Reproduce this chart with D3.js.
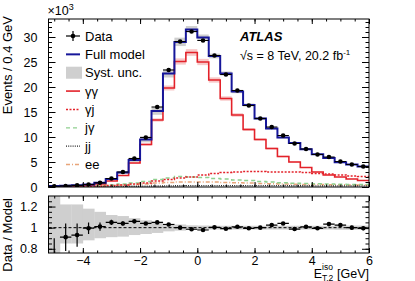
<!DOCTYPE html>
<html>
<head>
<meta charset="utf-8">
<script src="https://cdn.jsdelivr.net/npm/d3@7"></script>
<style>
  body { margin: 0; background: #fff; }
  svg { display: block; font-family: "Liberation Sans", Arial, sans-serif; }
</style>
</head>
<body>
<div id="chart"></div>
<script>
// bins of 0.4 GeV (low edges)
const binLow = [-5.2, -4.8, -4.4, -4.0, -3.6, -3.2, -2.8, -2.4, -2.0, -1.6, -1.2, -0.8, -0.4, 0.0,
  0.4, 0.8, 1.2, 1.6, 2.0, 2.4, 2.8, 3.2, 3.6, 4.0, 4.4, 4.8, 5.2, 5.6];
const binWidth = 0.4;

// values in units of 10^3 events
const dataVals = [0.15, 0.21, 0.32, 0.5, 0.84, 1.7, 3.0, 5.7, 9.9, 16.0, 23.4, 29.1, 31.1, 29.3,
  26.3, 22.5, 19.3, 16.3, 13.7, 12.0, 10.3, 8.7, 7.6, 6.5, 6.0, 5.1, 4.5, 4.1];
const dataRelErr = [0.2, 0.13, 0.11, 0.055, 0.04, 0.025, 0.02, 0.015, 0.012, 0.01, 0.01, 0.01, 0.01, 0.01,
  0.01, 0.01, 0.01, 0.01, 0.012, 0.012, 0.013, 0.014, 0.015, 0.016, 0.016, 0.017, 0.018, 0.019];
const modelVals = [0.22, 0.23, 0.34, 0.5, 0.83, 1.62, 2.88, 5.38, 9.5, 15.2, 22.7, 29.0, 31.5, 29.9,
  26.2, 22.7, 19.1, 16.4, 13.7, 11.7, 9.9, 8.8, 7.55, 6.55, 5.8, 4.97, 4.5, 4.12];
const ggVals = [0.1, 0.15, 0.25, 0.35, 0.6, 1.2, 2.3, 4.8, 8.5, 13.4, 19.8, 25.1, 26.9, 25.0,
  21.4, 17.7, 14.4, 11.5, 9.5, 7.7, 6.1, 5.0, 3.9, 3.0, 2.4, 2.0, 1.6, 1.3];
const gjVals = [0.03, 0.05, 0.08, 0.12, 0.2, 0.3, 0.4, 0.6, 0.8, 1.2, 1.5, 1.8, 2.0, 2.4,
  2.7, 2.9, 3.0, 3.1, 3.1, 3.0, 3.0, 3.0, 2.9, 2.7, 2.6, 2.4, 2.2, 2.1];
const jgVals = [0.03, 0.05, 0.1, 0.15, 0.3, 0.4, 0.6, 0.8, 1.1, 1.5, 1.8, 2.1, 2.0, 1.9,
  1.7, 1.6, 1.4, 1.3, 1.1, 1.0, 0.85, 0.75, 0.7, 0.65, 0.6, 0.55, 0.5, 0.5];
const jjVals = [0.02, 0.03, 0.04, 0.05, 0.07, 0.1, 0.12, 0.15, 0.18, 0.2, 0.22, 0.25, 0.27, 0.28,
  0.28, 0.28, 0.28, 0.27, 0.27, 0.26, 0.26, 0.25, 0.25, 0.24, 0.24, 0.23, 0.23, 0.22];
const eeVals = [0.05, 0.07, 0.1, 0.15, 0.2, 0.3, 0.4, 0.5, 0.6, 0.8, 0.9, 1.0, 1.0, 1.0,
  1.0, 0.9, 0.85, 0.8, 0.7, 0.65, 0.6, 0.55, 0.5, 0.5, 0.45, 0.45, 0.4, 0.4];

// data / model and relative syst. uncertainty
const ratioVals = [0.70, 0.91, 0.93, 0.995, 1.01, 1.05, 1.04, 1.06, 1.04, 1.05, 1.03, 1.0, 0.985, 0.978,
  1.003, 0.99, 1.008, 0.994, 1.0, 1.025, 1.04, 0.987, 1.008, 0.994, 1.034, 1.025, 1.0, 0.994];
const systUp = [0.30, 0.22, 0.22, 0.18, 0.15, 0.12, 0.11, 0.09, 0.07, 0.055, 0.04, 0.03, 0.022, 0.02,
  0.018, 0.018, 0.018, 0.018, 0.018, 0.018, 0.018, 0.018, 0.018, 0.018, 0.018, 0.02, 0.02, 0.02];
const systDown = [0.25, 0.15, 0.15, 0.12, 0.10, 0.09, 0.085, 0.07, 0.06, 0.05, 0.035, 0.028, 0.02, 0.02,
  0.018, 0.018, 0.018, 0.018, 0.018, 0.018, 0.018, 0.018, 0.018, 0.018, 0.018, 0.02, 0.02, 0.02];

const xTicks = [-4, -2, 0, 2, 4, 6];
const yTicks = [0, 5, 10, 15, 20, 25, 30];
const rTicks = [0.8, 1, 1.2];

// layout
const W = 415, H = 281;
const left = 48.5, right = 369;
const top1 = 19, bot1 = 187;
const top2 = 196, bot2 = 253;

const svg = d3.select("#chart").append("svg")
  .attr("width", W).attr("height", H);

const x = d3.scaleLinear().domain([-5.2, 6]).range([left, right]);
const y = d3.scaleLinear().domain([0, 33.6]).range([bot1, top1]);
const yr = d3.scaleLinear().domain([0.76, 1.3]).range([bot2, top2]);

const defs = svg.append("defs");
defs.append("clipPath").attr("id", "clipTop").append("rect")
  .attr("x", left).attr("y", top1).attr("width", right - left).attr("height", bot1 - top1);
defs.append("clipPath").attr("id", "clipBot").append("rect")
  .attr("x", left).attr("y", top2).attr("width", right - left).attr("height", bot2 - top2);

const blue = "#16169a";
const red = "#e3222a";

// step path helper
const stepLine = (vals, ys) => {
  const pts = vals.map((v, i) => [x(binLow[i]), ys(v)]);
  pts.push([x(binLow[vals.length - 1] + binWidth), ys(vals[vals.length - 1])]);
  return d3.line().curve(d3.curveStepAfter)(pts);
};

// ---------- upper pad ----------
const gTop = svg.append("g").attr("clip-path", "url(#clipTop)");

// syst band around full model
gTop.selectAll("rect.syst").data(modelVals).enter().append("rect")
  .attr("x", (d, i) => x(binLow[i]))
  .attr("width", (d, i) => x(binLow[i] + binWidth) - x(binLow[i]))
  .attr("y", (d, i) => y(d * (1 + systUp[i])))
  .attr("height", (d, i) => y(d * (1 - systDown[i])) - y(d * (1 + systUp[i])))
  .attr("fill", "#cfcfcf");

// light band around gamma-gamma
gTop.selectAll("rect.gg").data(ggVals).enter().append("rect")
  .attr("x", (d, i) => x(binLow[i]))
  .attr("width", (d, i) => x(binLow[i] + binWidth) - x(binLow[i]))
  .attr("y", d => y(d * 1.025))
  .attr("height", d => y(d * 0.975) - y(d * 1.025))
  .attr("fill", "#f3b0b0").attr("opacity", 0.7);

const comps = [
  { vals: eeVals, color: "#e8a57a", dash: "4,2,1,2", w: 1.3 },
  { vals: jjVals, color: "#222", dash: "1,1.2", w: 1.3 },
  { vals: jgVals, color: "#8fd08f", dash: "4,3", w: 1.3 },
  { vals: gjVals, color: red, dash: "2,1.5", w: 1.5 },
  { vals: ggVals, color: red, dash: null, w: 1.6 },
  { vals: modelVals, color: blue, dash: null, w: 2 }
];
comps.forEach(c => {
  gTop.append("path")
    .attr("d", stepLine(c.vals, y))
    .attr("fill", "none")
    .attr("stroke", c.color)
    .attr("stroke-width", c.w)
    .attr("stroke-dasharray", c.dash);
});

// data points
const pts = gTop.selectAll("g.pt").data(dataVals).enter().append("g");
pts.append("line")
  .attr("x1", (d, i) => x(binLow[i])).attr("x2", (d, i) => x(binLow[i] + binWidth))
  .attr("y1", d => y(d)).attr("y2", d => y(d))
  .attr("stroke", "#000").attr("stroke-width", 1.2);
pts.append("line")
  .attr("x1", (d, i) => x(binLow[i] + binWidth / 2)).attr("x2", (d, i) => x(binLow[i] + binWidth / 2))
  .attr("y1", (d, i) => y(d * (1 + dataRelErr[i]))).attr("y2", (d, i) => y(d * (1 - dataRelErr[i])))
  .attr("stroke", "#000").attr("stroke-width", 1.2);
pts.append("circle")
  .attr("cx", (d, i) => x(binLow[i] + binWidth / 2)).attr("cy", d => y(d))
  .attr("r", 2.3).attr("fill", "#000");

// ---------- lower pad ----------
const gBot = svg.append("g").attr("clip-path", "url(#clipBot)");
gBot.selectAll("rect.rs").data(systUp).enter().append("rect")
  .attr("x", (d, i) => x(binLow[i]))
  .attr("width", (d, i) => x(binLow[i] + binWidth) - x(binLow[i]) + 0.3)
  .attr("y", d => yr(1 + d))
  .attr("height", (d, i) => yr(1 - systDown[i]) - yr(1 + d))
  .attr("fill", "#cfcfcf");
gBot.append("line")
  .attr("x1", left).attr("x2", right).attr("y1", yr(1)).attr("y2", yr(1))
  .attr("stroke", "#000").attr("stroke-width", 1).attr("stroke-dasharray", "3,2");
const rp = gBot.selectAll("g.rp").data(ratioVals).enter().append("g");
rp.append("line")
  .attr("x1", (d, i) => x(binLow[i])).attr("x2", (d, i) => x(binLow[i] + binWidth))
  .attr("y1", d => yr(d)).attr("y2", d => yr(d))
  .attr("stroke", "#000").attr("stroke-width", 1.2);
rp.append("line")
  .attr("x1", (d, i) => x(binLow[i] + binWidth / 2)).attr("x2", (d, i) => x(binLow[i] + binWidth / 2))
  .attr("y1", (d, i) => yr(d + dataRelErr[i])).attr("y2", (d, i) => yr(d - dataRelErr[i]))
  .attr("stroke", "#000").attr("stroke-width", 1.2);
rp.append("circle")
  .attr("cx", (d, i) => x(binLow[i] + binWidth / 2)).attr("cy", d => yr(d))
  .attr("r", 2.3).attr("fill", "#000");

// ---------- axes ----------
const styleAxis = g => {
  g.select(".domain").remove();
  g.selectAll("line").attr("stroke", "#000");
  g.selectAll("text").attr("font-size", 12.5).attr("fill", "#000")
    .attr("font-family", "Liberation Sans, Arial, sans-serif");
};
const minorX = d3.range(-5, 6.01, 0.5);

function xAxes(yPos, yOther, labels) {
  svg.append("g").attr("transform", `translate(0,${yPos})`)
    .call(d3.axisBottom(x).tickValues(xTicks).tickSize(-5)
      .tickFormat(labels ? d3.format("") : "").tickPadding(3))
    .call(styleAxis);
  svg.append("g").attr("transform", `translate(0,${yPos})`)
    .call(d3.axisBottom(x).tickValues(minorX).tickSize(-2.5).tickFormat(""))
    .call(styleAxis);
  svg.append("g").attr("transform", `translate(0,${yOther})`)
    .call(d3.axisTop(x).tickValues(xTicks).tickSize(-5).tickFormat(""))
    .call(styleAxis);
  svg.append("g").attr("transform", `translate(0,${yOther})`)
    .call(d3.axisTop(x).tickValues(minorX).tickSize(-2.5).tickFormat(""))
    .call(styleAxis);
}
xAxes(bot1, top1, false);
xAxes(bot2, top2, true);

function yAxes(scale, major, minor, fmt) {
  svg.append("g").attr("transform", `translate(${left},0)`)
    .call(d3.axisLeft(scale).tickValues(major).tickSize(-7).tickPadding(4).tickFormat(fmt))
    .call(styleAxis)
    .selectAll("text").attr("dx", -7);
  svg.append("g").attr("transform", `translate(${left},0)`)
    .call(d3.axisLeft(scale).tickValues(minor).tickSize(-3.5).tickFormat(""))
    .call(styleAxis);
  svg.append("g").attr("transform", `translate(${right},0)`)
    .call(d3.axisRight(scale).tickValues(major).tickSize(-7).tickFormat(""))
    .call(styleAxis);
  svg.append("g").attr("transform", `translate(${right},0)`)
    .call(d3.axisRight(scale).tickValues(minor).tickSize(-3.5).tickFormat(""))
    .call(styleAxis);
}
yAxes(y, yTicks, d3.range(0, 34, 1), d3.format(""));
yAxes(yr, rTicks, d3.range(0.8, 1.3, 0.05), d => d === 1 ? "1" : d3.format(".1f")(d));

// frames
[[top1, bot1], [top2, bot2]].forEach(([t, b]) => {
  svg.append("rect").attr("x", left).attr("y", t)
    .attr("width", right - left).attr("height", b - t)
    .attr("fill", "none").attr("stroke", "#000").attr("stroke-width", 1);
});

// ---------- texts ----------
const mult = svg.append("text").attr("x", left - 1).attr("y", 15).attr("font-size", 12.5);
mult.append("tspan").text("×10");
mult.append("tspan").attr("dy", -5).attr("font-size", 9).text("3");

svg.append("text")
  .attr("transform", `translate(12,${top1 - 3}) rotate(-90)`)
  .attr("text-anchor", "end").attr("font-size", 13)
  .text("Events / 0.4 GeV");
svg.append("text")
  .attr("transform", `translate(12,${top2 + 2}) rotate(-90)`)
  .attr("text-anchor", "end").attr("font-size", 13)
  .text("Data / Model");

// x title: E_{T,2}^{iso} [GeV]
svg.append("text").attr("x", right).attr("y", 277.5)
  .attr("text-anchor", "end").attr("font-size", 12.5).text("[GeV]");
svg.append("text").attr("x", 322).attr("y", 269.5).attr("font-size", 8.5).text("iso");
svg.append("text").attr("x", 322).attr("y", 280.5).attr("font-size", 8.5).text("T,2");
svg.append("text").attr("x", 322).attr("y", 277.5)
  .attr("text-anchor", "end").attr("font-size", 12.5).text("E");

svg.append("text").attr("x", 240).attr("y", 41)
  .attr("font-size", 13).attr("font-weight", "bold").attr("font-style", "italic")
  .text("ATLAS");
const en = svg.append("text").attr("x", 240).attr("y", 60).attr("font-size", 12.5);
en.append("tspan").text("√s = 8 TeV, 20.2 fb");
en.append("tspan").attr("dy", -5).attr("font-size", 8).text("-1");

// ---------- legend ----------
const legendLabels = ["Data", "Full model", "Syst. unc.", "γγ", "γj", "jγ", "jj", "ee"];
const legY = d3.scaleLinear().domain([0, 7]).range([36, 164.5]);
const lx0 = 66, lx1 = 80;
const leg = svg.append("g");
legendLabels.forEach((lab, i) => {
  const yy = legY(i);
  if (i === 0) {
    leg.append("line").attr("x1", lx0).attr("x2", lx1).attr("y1", yy).attr("y2", yy)
      .attr("stroke", "#000").attr("stroke-width", 1.2);
    leg.append("line").attr("x1", (lx0 + lx1) / 2).attr("x2", (lx0 + lx1) / 2)
      .attr("y1", yy - 5).attr("y2", yy + 5).attr("stroke", "#000").attr("stroke-width", 1.2);
    leg.append("circle").attr("cx", (lx0 + lx1) / 2).attr("cy", yy).attr("r", 2.3);
  } else if (i === 2) {
    leg.append("rect").attr("x", lx0).attr("y", yy - 6).attr("width", lx1 - lx0 + 2)
      .attr("height", 12).attr("fill", "#cfcfcf");
  } else {
    const c = [null, comps[5], null, comps[4], comps[3], comps[2], comps[1], comps[0]][i];
    leg.append("line").attr("x1", lx0).attr("x2", lx1).attr("y1", yy).attr("y2", yy)
      .attr("stroke", c.color).attr("stroke-width", c.w).attr("stroke-dasharray", c.dash);
  }
  leg.append("text").attr("x", 85).attr("y", yy + 4.5).attr("font-size", 13).text(lab);
});
</script>
</body>
</html>
